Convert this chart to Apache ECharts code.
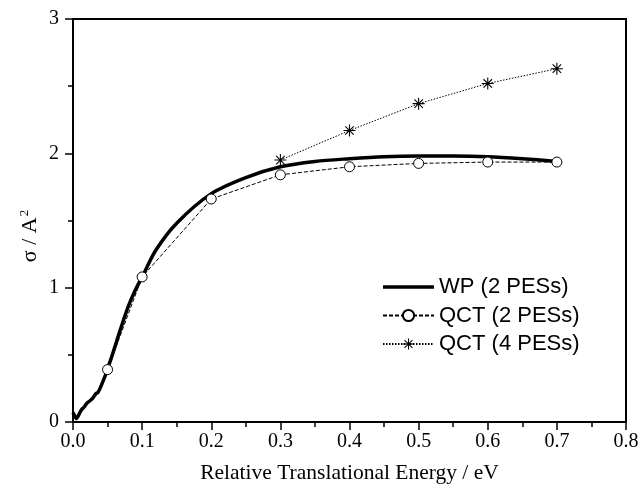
<!DOCTYPE html>
<html><head><meta charset="utf-8">
<script src="https://cdn.jsdelivr.net/npm/echarts@6/dist/echarts.min.js"></script>
<style>html,body{margin:0;padding:0;background:#fff}#c{width:639px;height:493px}</style>
</head><body><div id="c"></div>
<script>
const wpX = [0, 0.003, 0.005, 0.008, 0.012, 0.016, 0.02, 0.025, 0.029, 0.033, 0.036, 0.04, 0.0435, 0.047, 0.05, 0.055, 0.06, 0.068, 0.08, 0.09, 0.1, 0.12, 0.15, 0.2, 0.25, 0.3, 0.35, 0.4, 0.45, 0.5, 0.55, 0.6, 0.65, 0.7];
const wpY = [0.07, 0.04, 0.025, 0.05, 0.09, 0.11, 0.14, 0.16, 0.18, 0.21, 0.22, 0.26, 0.305, 0.35, 0.40, 0.47, 0.55, 0.68, 0.86, 0.98, 1.08, 1.28, 1.48, 1.70, 1.82, 1.90, 1.94, 1.96, 1.975, 1.98, 1.98, 1.975, 1.96, 1.94];
const qct2X = [0.05, 0.1, 0.2, 0.3, 0.4, 0.5, 0.6, 0.7];
const qct2Y = [0.39, 1.08, 1.66, 1.84, 1.90, 1.925, 1.935, 1.935];
const qct4X = [0.3, 0.4, 0.5, 0.6, 0.7];
const qct4Y = [1.95, 2.17, 2.37, 2.52, 2.63];
const names = ['WP (2 PESs)', 'QCT (2 PESs)', 'QCT (4 PESs)'];
const xTitle = 'Relative Translational Energy / eV';

const zip = (a, b) => a.map((v, i) => [v, b[i]]);
const star = 'path://M-0.9,-10L0.9,-10L0.9,10L-0.9,10Z M-10,-0.9L10,-0.9L10,0.9L-10,0.9Z M-7.7,-6.4L-6.4,-7.7L7.7,6.4L6.4,7.7Z M6.4,-7.7L7.7,-6.4L-6.4,7.7L-7.7,6.4Z';
const barIcon = 'path://M0,0L0.01,0L0,0.01Z M0,5.2L51,5.2L51,8.8L0,8.8Z M51,14L50.99,14L51,13.99Z';
const serif = 'Liberation Serif';
const chart = echarts.init(document.getElementById('c'), null, {renderer: 'canvas'});
chart.setOption({
  animation: false,
  backgroundColor: '#fff',
  grid: {left: 73, right: 13, top: 19, bottom: 71, show: true, borderColor: '#000', borderWidth: 2,
         containLabel: false, outerBoundsMode: 'none'},
  legend: {
    orient: 'vertical', left: 377, top: 271, itemGap: 6.5, itemWidth: 51, itemHeight: 14,
    textStyle: {fontFamily: 'Liberation Sans', fontSize: 22, lineHeight: 21, color: '#000'},
    data: [{name: names[0], icon: barIcon}, names[1], names[2]]
  },
  graphic: [{
    type: 'text', x: 30, y: 236, rotation: Math.PI / 2,
    style: {
      text: '{a|σ / A}{s|2}', x: 0, y: 0, align: 'center', verticalAlign: 'middle',
      rich: {a: {fontFamily: serif, fontSize: 22, fill: '#000'}, s: {fontFamily: serif, fontSize: 13, fill: '#000', verticalAlign: 'top', padding: [0, 0, 10, 1]}}
    }
  }],
  xAxis: {
    type: 'value', min: 0, max: 0.8, interval: 0.1,
    axisLine: {lineStyle: {color: '#000', width: 2}},
    axisTick: {inside: false, length: 8, lineStyle: {color: '#000', width: 1.5}},
    minorTick: {show: true, splitNumber: 2, length: 5, lineStyle: {color: '#000', width: 1.5}},
    splitLine: {show: false},
    axisLabel: {fontFamily: serif, fontSize: 20, color: '#000', margin: 10, formatter: v => v.toFixed(1)},
    name: xTitle, nameLocation: 'middle', nameGap: 40,
    nameTextStyle: {fontFamily: serif, fontSize: 21.5, color: '#000'}
  },
  yAxis: {
    type: 'value', min: 0, max: 3, interval: 1,
    axisLine: {lineStyle: {color: '#000', width: 2}},
    axisTick: {inside: false, length: 8, lineStyle: {color: '#000', width: 1.5}},
    minorTick: {show: true, splitNumber: 2, length: 5, lineStyle: {color: '#000', width: 1.5}},
    splitLine: {show: false},
    axisLabel: {fontFamily: serif, fontSize: 20, color: '#000', margin: 14}
  },
  series: [
    {name: names[0], type: 'line', data: zip(wpX, wpY), smooth: 0.3, showSymbol: false, symbol: 'none',
     lineStyle: {color: '#000', width: 3.5}, itemStyle: {color: '#000'}, z: 3},
    {name: names[1], type: 'line', data: zip(qct2X, qct2Y), symbol: 'circle', symbolSize: 10,
     lineStyle: {color: '#000', width: 1, type: [4, 2]}, itemStyle: {color: '#fff', borderColor: '#000', borderWidth: 1}, z: 4},
    {name: names[2], type: 'line', data: zip(qct4X, qct4Y), symbol: star, symbolSize: 12,
     lineStyle: {color: '#000', width: 1, type: [1.5, 1.5]}, itemStyle: {color: '#000'}, z: 4}
  ]
});
</script></body></html>
